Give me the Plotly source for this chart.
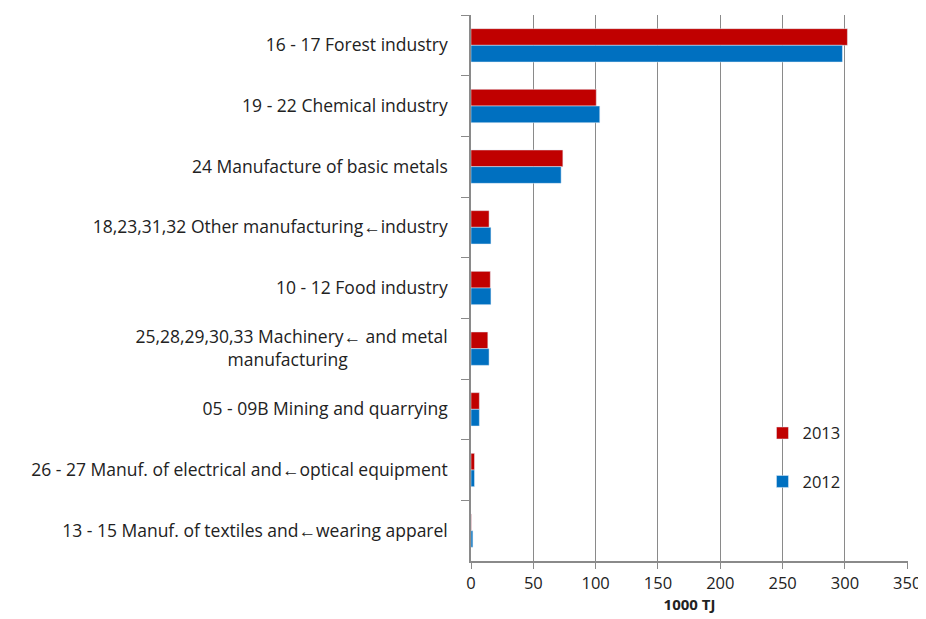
import plotly.graph_objects as go

categories = [
    "16 - 17 Forest industry",
    "19 - 22 Chemical industry",
    "24 Manufacture of basic metals",
    "18,23,31,32 Other manufacturing\u2190industry",
    "10 - 12 Food industry",
    "25,28,29,30,33 Machinery\u2190 and metal<br>manufacturing" + "\u00a0" * 22,
    "05 - 09B Mining and quarrying",
    "26 - 27 Manuf. of electrical and\u2190optical equipment",
    "13 - 15 Manuf. of textiles and\u2190wearing apparel",
]
values_2013 = [302, 100.5, 73.7, 14.5, 15.5, 13.5, 6.7, 2.8, 0.3]
values_2012 = [298, 103.3, 72.3, 16.0, 16.0, 14.5, 6.7, 2.8, 1.5]
x_ticks = [0, 50, 100, 150, 200, 250, 300, 350]

font_family = "Open Sans, Liberation Sans, Arial, sans-serif"
grey = "#8a8a8a"

fig = go.Figure()
fig.add_trace(go.Bar(
    y=categories, x=values_2013, orientation="h", name="2013",
    marker=dict(color="#C00000"), legendgroup="a",
))
fig.add_trace(go.Bar(
    y=categories, x=values_2012, orientation="h", name="2012",
    marker=dict(color="#0070C0"), legendgroup="b",
))

fig.update_layout(
    width=918, height=611,
    margin=dict(l=463, r=18, t=7, b=58, autoexpand=False),
    barmode="group", bargap=0.45, bargroupgap=0,
    plot_bgcolor="white", paper_bgcolor="white",
    font=dict(family=font_family, size=16, color="#222222"),
    legend=dict(
        x=0.667, y=0.266, xanchor="left", yanchor="top",
        bgcolor="rgba(0,0,0,0)", font=dict(size=16.5),
        tracegroupgap=24, itemwidth=30,
    ),
    xaxis=dict(
        range=[0, 350.6], tickvals=x_ticks, showgrid=True, gridcolor=grey,
        gridwidth=1.2, showline=True, linecolor=grey, linewidth=1.5,
        ticks="outside", ticklen=6, tickcolor=grey, zeroline=False,
        tickfont=dict(size=16.5), automargin=False,
        title=dict(text="<b>1000 TJ</b>", font=dict(size=15), standoff=7),
    ),
    yaxis=dict(
        autorange="reversed", showline=True, linecolor=grey, linewidth=1.5,
        ticks="outside", ticklen=8, tickcolor=grey, tickson="boundaries",
        showgrid=False, tickfont=dict(size=17.5), ticklabelstandoff=18,
        automargin=False,
    ),
)

fig.write_html("out.html")
